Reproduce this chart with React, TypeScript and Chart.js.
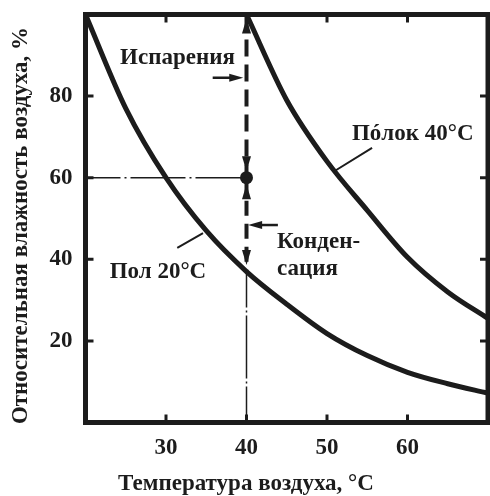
import React, { useEffect, useRef } from 'react';
import { Chart, registerables } from 'chart.js';

Chart.register(...registerables);

const FONT = '"Liberation Serif", "DejaVu Serif", serif';
const INK = '#1c1c1c';

const xTicks = [30, 40, 50, 60];
const yTicks = [20, 40, 60, 80];

// Пол 20°C
const floorT = [20, 25, 30, 35, 40, 45, 50, 55, 60, 65, 70];
const floorRH = [100, 77, 60, 47, 37, 29, 21.8, 16.4, 12.3, 9.5, 7.2];

// Пóлок 40°C
const shelfT = [40, 45, 50, 55, 60, 65, 70];
const shelfRH = [100, 79, 64, 52, 40.5, 32, 25.5];

// state point and its projections
const stateT = 40;
const stateRH = 60;
const dewRH = 37;

const xTitle = 'Температура воздуха, °C';
const yTitle = 'Относительная влажность воздуха, %';

const textLabels = [
  { text: 'Испарения', x: 24.3, y: 87.9 },
  { text: 'Пóлок 40°C', x: 53.1, y: 69.2 },
  { text: 'Пол 20°C', x: 23.0, y: 35.4 },
  { text: 'Конден-', x: 43.8, y: 42.8 },
  { text: 'сация', x: 43.8, y: 36.2 },
];

const leaders = [
  { x1: 31.4, y1: 42.8, x2: 34.6, y2: 46.4 },
  { x1: 55.6, y1: 67.3, x2: 50.75, y2: 61.4 },
];

const vArrows = [
  { y: 99, dir: 1 },
  { y: 61.6, dir: -1 },
  { y: 58.4, dir: 1 },
  { y: 38.6, dir: -1 },
];

const hArrows = [
  { y: 84.5, from: 35.8, to: 39.6 },
  { y: 48.4, from: 43.9, to: 40.2 },
];

const decor = {
  id: 'decor',
  afterDatasetsDraw(chart: any) {
    const { ctx, chartArea: a, scales } = chart;
    const xs = scales.x;
    const ys = scales.y;
    const px = (v: number) => xs.getPixelForValue(v);
    const py = (v: number) => ys.getPixelForValue(v);
    ctx.save();
    ctx.strokeStyle = INK;
    ctx.fillStyle = INK;
    ctx.setLineDash([]);

    ctx.lineWidth = 5;
    ctx.strokeRect(a.left, a.top, a.right - a.left, a.bottom - a.top);

    ctx.lineWidth = 3;
    ctx.beginPath();
    for (const t of xTicks) {
      const X = px(t);
      ctx.moveTo(X, a.bottom); ctx.lineTo(X, a.bottom - 8);
      ctx.moveTo(X, a.top); ctx.lineTo(X, a.top + 8);
    }
    for (const t of yTicks) {
      const Y = py(t);
      ctx.moveTo(a.left, Y); ctx.lineTo(a.left + 8, Y);
      ctx.moveTo(a.right, Y); ctx.lineTo(a.right - 8, Y);
    }
    ctx.stroke();

    const head = (tx: number, ty: number, dx: number, dy: number, len = 15, half = 4.5) => {
      const bx = tx - dx * len;
      const by = ty - dy * len;
      ctx.beginPath();
      ctx.moveTo(tx, ty);
      ctx.lineTo(bx - dy * half, by + dx * half);
      ctx.lineTo(bx + dy * half, by - dx * half);
      ctx.closePath();
      ctx.fill();
    };

    const vx = px(stateT);
    for (const ar of vArrows) {
      head(vx, py(ar.y), 0, -ar.dir);
    }

    ctx.lineWidth = 2.5;
    for (const ar of hArrows) {
      const Y = py(ar.y);
      const x1 = px(ar.from);
      const x2 = px(ar.to);
      const d = x2 > x1 ? 1 : -1;
      ctx.beginPath();
      ctx.moveTo(x1, Y);
      ctx.lineTo(x2 - d * 8, Y);
      ctx.stroke();
      head(x2, Y, d, 0, 14, 4);
    }

    ctx.lineWidth = 2;
    ctx.beginPath();
    for (const l of leaders) {
      ctx.moveTo(px(l.x1), py(l.y1));
      ctx.lineTo(px(l.x2), py(l.y2));
    }
    ctx.stroke();

    ctx.font = `bold 23px ${FONT}`;
    ctx.textAlign = 'left';
    ctx.textBaseline = 'alphabetic';
    for (const t of textLabels) {
      ctx.fillText(t.text, px(t.x), py(t.y));
    }

    ctx.textAlign = 'center';
    ctx.fillText(xTitle, 246, 490);
    ctx.save();
    ctx.translate(21, 225.5);
    ctx.rotate(-Math.PI / 2);
    ctx.textBaseline = 'middle';
    ctx.fillText(yTitle, 0, 0);
    ctx.restore();

    ctx.restore();
  },
};

const noPad = (s: any) => {
  s.paddingTop = 0;
  s.paddingBottom = 0;
  s.paddingLeft = 0;
  s.paddingRight = 0;
};

export default function App() {
  const ref = useRef<HTMLCanvasElement | null>(null);
  useEffect(() => {
    if (!ref.current) return;
    const pts = (xs: number[], ys: number[]) => xs.map((x, i) => ({ x, y: ys[i] }));
    const chart = new Chart(ref.current, {
      type: 'scatter',
      data: {
        datasets: [
          { data: pts(floorT, floorRH), showLine: true, borderColor: INK, borderWidth: 5, pointRadius: 0, cubicInterpolationMode: 'monotone' },
          { data: pts(shelfT, shelfRH), showLine: true, borderColor: INK, borderWidth: 5, pointRadius: 0, cubicInterpolationMode: 'monotone' },
          { data: [{ x: stateT, y: 100 }, { x: stateT, y: stateRH }], showLine: true, borderColor: INK, borderWidth: 4, borderDash: [17, 8], pointRadius: 0 },
          { data: [{ x: stateT, y: stateRH }, { x: stateT, y: dewRH }], showLine: true, borderColor: INK, borderWidth: 4, borderDash: [15, 8], pointRadius: 0 },
          { data: [{ x: stateT, y: dewRH }, { x: stateT, y: 0 }], showLine: true, borderColor: INK, borderWidth: 1.5, borderDash: [63, 3, 2, 3], borderDashOffset: 27, pointRadius: 0 },
          { data: [{ x: 20, y: stateRH }, { x: stateT, y: stateRH }], showLine: true, borderColor: INK, borderWidth: 1.5, borderDash: [55, 4, 2, 4], borderDashOffset: 20, pointRadius: 0 },
          { data: [{ x: stateT, y: stateRH }], showLine: false, pointRadius: 6.5, pointBackgroundColor: INK, pointBorderColor: INK, pointBorderWidth: 0 },
        ],
      },
      options: {
        animation: false,
        responsive: false,
        events: [],
        layout: { autoPadding: false, padding: { top: 14.5, right: 2, left: 0, bottom: 0 } },
        plugins: { legend: { display: false }, tooltip: { enabled: false }, title: { display: false } },
        scales: {
          x: {
            type: 'linear', min: 20, max: 70,
            grid: { display: false, drawTicks: false },
            border: { display: false },
            ticks: { font: { family: FONT, size: 23, weight: 'bold' }, color: INK, padding: 12 },
            afterBuildTicks: (s: any) => { s.ticks = xTicks.map((v) => ({ value: v })); },
            afterFit: (s: any) => { s.height = 73.5; noPad(s); },
          },
          y: {
            type: 'linear', min: 0, max: 100,
            grid: { display: false, drawTicks: false },
            border: { display: false },
            ticks: { font: { family: FONT, size: 23, weight: 'bold' }, color: INK, padding: 13 },
            afterBuildTicks: (s: any) => { s.ticks = yTicks.map((v) => ({ value: v })); },
            afterFit: (s: any) => { s.width = 85.5; noPad(s); },
          },
        },
      },
      plugins: [decor],
    } as any);
    return () => chart.destroy();
  }, []);
  return (
    <div style={{ position: 'fixed', left: 0, top: 0, width: 490, height: 496, background: '#fff' }}>
      <canvas ref={ref} width={490} height={496} />
    </div>
  );
}
